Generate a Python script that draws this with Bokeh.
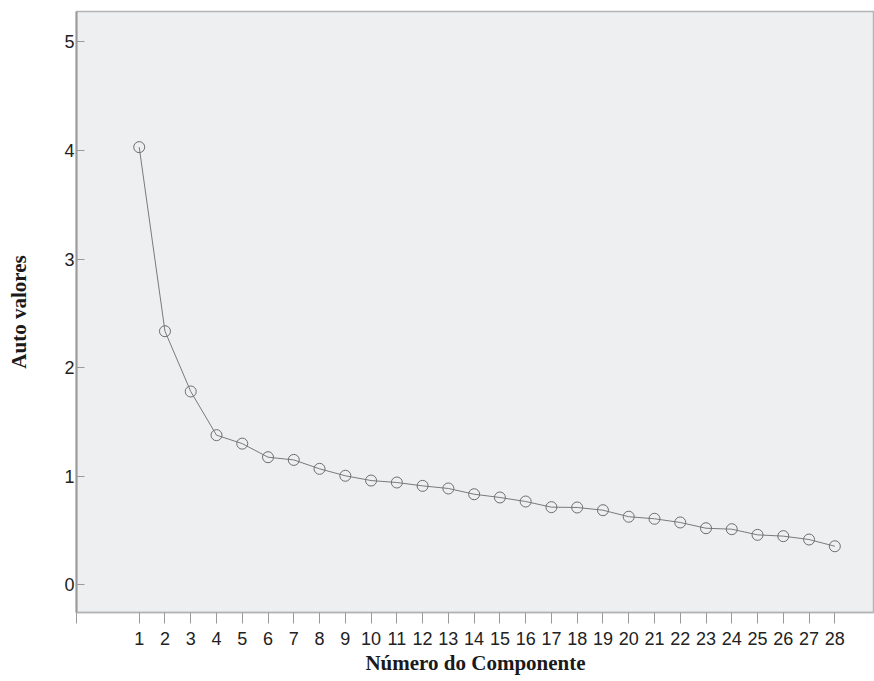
from bokeh.plotting import figure
from bokeh.models import Range1d, FixedTicker
from bokeh.embed import file_html
from bokeh.resources import INLINE

componentes = list(range(1, 29))
autovalores = [4.03, 2.335, 1.78, 1.378, 1.30, 1.175, 1.15, 1.068, 1.004,
               0.96, 0.942, 0.911, 0.887, 0.834, 0.804, 0.767, 0.715, 0.712,
               0.687, 0.627, 0.608, 0.574, 0.521, 0.512, 0.46, 0.448, 0.417, 0.355]
y_ticks = [0, 1, 2, 3, 4, 5]

x_start, x_end = -1.434, 29.54
y_start, y_end = -0.255, 5.279

p = figure(width=874, height=681, output_backend="svg", toolbar_location=None,
           x_range=Range1d(x_start, x_end), y_range=Range1d(y_start, y_end),
           min_border_left=76, min_border_right=0, min_border_top=11, min_border_bottom=69)

p.background_fill_color = "#eeeff1"
p.border_fill_color = "white"
p.outline_line_color = "#b4b4b4"
p.outline_line_width = 1.5
p.xgrid.visible = False
p.ygrid.visible = False

p.line(componentes, autovalores, line_color="#7a7a7a", line_width=1)
p.scatter(componentes, autovalores, marker="circle", size=11, fill_color=None,
          line_color="#6e6e6e", line_width=1)

# x axis
xa = p.xaxis[0]
xa.ticker = FixedTicker(ticks=[x_start] + componentes)
xa.major_label_overrides = {x_start: ""}
xa.major_tick_in = 0
xa.major_tick_out = 11
xa.minor_tick_line_color = None
xa.major_tick_line_color = "#9a9a9a"
xa.axis_line_color = "#b4b4b4"
xa.axis_line_width = 1.5
xa.major_label_text_font = "Liberation Sans"
xa.major_label_text_font_size = "18px"
xa.major_label_text_color = "#222222"
xa.major_label_standoff = 8
xa.axis_label = "Número do Componente"
xa.axis_label_text_font = "Liberation Serif"
xa.axis_label_text_font_style = "bold"
xa.axis_label_text_font_size = "21px"
xa.axis_label_text_color = "#1a1a1a"
xa.axis_label_standoff = 3

# y axis
ya = p.yaxis[0]
ya.ticker = FixedTicker(ticks=y_ticks)
ya.major_tick_in = 8
ya.major_tick_out = 0
ya.minor_tick_line_color = None
ya.major_tick_line_color = "#9a9a9a"
ya.axis_line_color = "#9a9a9a"
ya.axis_line_width = 2
ya.major_label_text_font = "Liberation Sans"
ya.major_label_text_font_size = "18px"
ya.major_label_text_color = "#222222"
ya.major_label_standoff = 2
ya.axis_label = "Auto valores"
ya.axis_label_text_font = "Liberation Serif"
ya.axis_label_text_font_style = "bold"
ya.axis_label_text_font_size = "21px"
ya.axis_label_text_color = "#1a1a1a"
ya.axis_label_standoff = 30

open("out.html", "w").write(file_html(p, INLINE))
